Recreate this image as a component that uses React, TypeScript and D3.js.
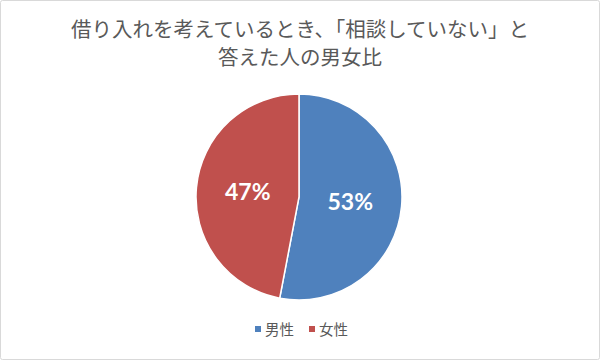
import React from "react";
import * as d3 from "d3";

const categories = ["男性", "女性"];
const values = [53, 47];
const colors = ["#4f81bd", "#c0504d"];
const titleLines = ["借り入れを考えているとき、「相談していない」と", "答えた人の男女比"];

const W = 600;
const H = 360;

export default function App() {
  const cx = 299;
  const cy = 197;
  const r = 103;
  const pie = d3.pie<number>().sort(null).value((d) => d)(values);
  const arc = d3.arc<d3.PieArcDatum<number>>().innerRadius(0).outerRadius(r);
  const labelArc = d3.arc<d3.PieArcDatum<number>>().innerRadius(r * 0.5).outerRadius(r * 0.5);

  const legendX = d3.scalePoint<string>().domain(categories).range([258, 312]);

  return (
    <svg
      width={W}
      height={H}
      style={{ position: "absolute", left: 0, top: 0, background: "#fff" }}
    >
      <rect x={0.5} y={0.5} width={W - 1} height={H - 1} fill="#fff" stroke="#d9d9d9" rx={2} />
      {titleLines.map((t, i) => (
        <text
          key={i}
          x={W / 2}
          y={37 + i * 28}
          textAnchor="middle"
          fontFamily="'Noto Sans CJK JP', sans-serif"
          fontSize={20.5}
          fill="#595959"
        >
          {t}
        </text>
      ))}
      <g transform={`translate(${cx},${cy})`}>
        {pie.map((p, i) => (
          <path key={i} d={arc(p) || ""} fill={colors[i]} stroke="#fff" strokeWidth={1.5} />
        ))}
        {pie.map((p, i) => {
          const [x, y] = labelArc.centroid(p);
          return (
            <text
              key={"l" + i}
              x={x}
              y={y}
              dy="0.35em"
              textAnchor="middle"
              fontFamily="Lato, 'Open Sans', sans-serif"
              fontWeight="bold"
              fontSize={23}
              fill="#fff"
            >
              {`${values[i]}%`}
            </text>
          );
        })}
      </g>
      {categories.map((c, i) => {
        const x = legendX(c) || 0;
        return (
          <g key={c}>
            <rect x={x - 3} y={326} width={6} height={6} fill={colors[i]} />
            <text
              x={x + 7}
              y={334.5}
              fontFamily="'Noto Sans CJK JP', sans-serif"
              fontSize={14.5}
              fill="#595959"
            >
              {c}
            </text>
          </g>
        );
      })}
    </svg>
  );
}
